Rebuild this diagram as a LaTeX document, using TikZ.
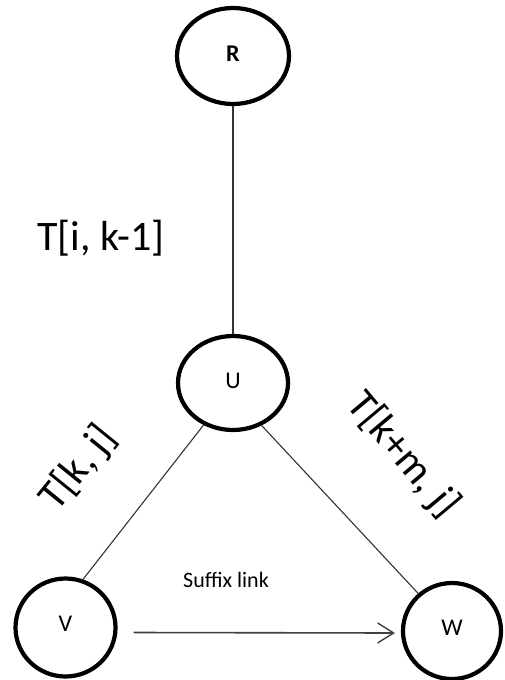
\documentclass[tikz,border=0pt]{standalone}
\usepackage{fontspec}
\setmainfont{Carlito}
\usetikzlibrary{shapes.geometric,arrows.meta}
\begin{document}
\begin{tikzpicture}[x=1pt,y=-1pt,
  vertex/.style={draw=black,line width=4.2pt,ellipse,inner sep=0pt,
    font=\fontsize{24}{26}\selectfont},
  edge/.style={draw=black!80,line width=1.1pt},
  edgelabel/.style={font=\fontsize{42}{48}\selectfont,inner sep=0pt},
  linklabel/.style={font=\fontsize{22}{26}\selectfont,inner sep=0pt}]
  \useasboundingbox (0,0) rectangle (504,680);
  % tree nodes
  \node[vertex,minimum width=112pt,minimum height=96pt] (R) at (233,56) {\raisebox{4pt}{\bfseries R}};
  \node[vertex,minimum width=110pt,minimum height=94pt] (U) at (233,383) {\raisebox{5pt}{U}};
  \node[vertex,minimum width=100pt,minimum height=98pt] (V) at (65.5,627.5) {\raisebox{8pt}{V}};
  \node[vertex,minimum width=98pt,minimum height=96pt] (W) at (452,631) {\raisebox{7pt}{W}};
  % tree edges
  \draw[edge] (R.south) -- (U.north);
  \draw[edge] (U.235) -- (V.70);
  \draw[edge] (U.304) -- (W.132);
  % suffix link
  \draw[draw=black!75,line width=1.6pt,-{Straight Barb[length=16pt,width=20pt,line width=1.4pt]}]
    ([xshift=16pt,yshift=-5pt]V.east) -- ([xshift=-6pt,yshift=-2pt]W.west);
  % labels
  \node[edgelabel] (l1) at (101,238) {T[i, k-1]};
  \node[edgelabel,rotate=51] (l2) at (79,468) {T[k, j]};
  \node[edgelabel,rotate=-50] (l3) at (403,455) {T[k+m, j]};
  \node[linklabel] (l4) at (226,580) {Suffix link};
\end{tikzpicture}
\end{document}
